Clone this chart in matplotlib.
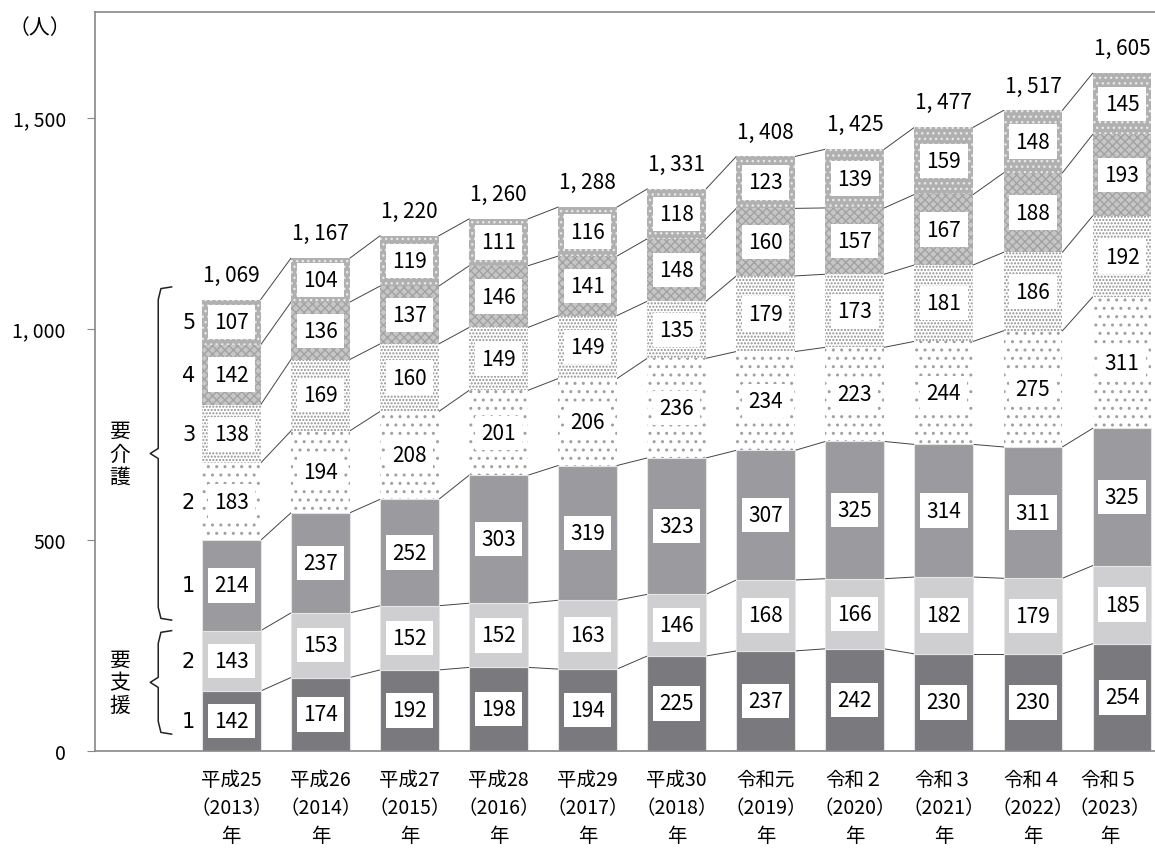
import matplotlib.pyplot as plt
import numpy as np
from matplotlib.transforms import ScaledTranslation

plt.rcParams['font.family'] = ['Noto Sans CJK JP', 'DejaVu Sans']
plt.rcParams['hatch.linewidth'] = 1.0

years = ['平成25\n（2013）\n年', '平成26\n（2014）\n年', '平成27\n（2015）\n年',
         '平成28\n（2016）\n年', '平成29\n（2017）\n年', '平成30\n（2018）\n年',
         '令和元\n（2019）\n年', '令和２\n（2020）\n年', '令和３\n（2021）\n年',
         '令和４\n（2022）\n年', '令和５\n（2023）\n年']

shien1 = [142, 174, 192, 198, 194, 225, 237, 242, 230, 230, 254]
shien2 = [143, 153, 152, 152, 163, 146, 168, 166, 182, 179, 185]
kaigo1 = [214, 237, 252, 303, 319, 323, 307, 325, 314, 311, 325]
kaigo2 = [183, 194, 208, 201, 206, 236, 234, 223, 244, 275, 311]
kaigo3 = [138, 169, 160, 149, 149, 135, 179, 173, 181, 186, 192]
kaigo4 = [142, 136, 137, 146, 141, 148, 160, 157, 167, 188, 193]
kaigo5 = [107, 104, 119, 111, 116, 118, 123, 139, 159, 148, 145]
totals = [1069, 1167, 1220, 1260, 1288, 1331, 1408, 1425, 1477, 1517, 1605]

series = [shien1, shien2, kaigo1, kaigo2, kaigo3, kaigo4, kaigo5]
side_labels = ['1', '2', '1', '2', '3', '4', '5']
# facecolor, hatch, hatch colour
styles = [
    ('#7a7a7e', None, None),
    ('#cfcfd1', None, None),
    ('#9b9b9f', None, None),
    ('white', '..', '#a0a0a0'),
    ('white', '.....', '#909090'),
    ('#c6c6c6', 'xxxx', '#a2a2a2'),
    ('#b0b0b0', '...', '#e8e8e8'),
]

fig = plt.figure(figsize=(11.55, 8.54), dpi=100)
ax = fig.add_axes([95 / 1155, 102 / 854, 1 - 95 / 1155, (752 - 13) / 854])

x = np.arange(len(years))
w = 0.66
bottom = np.zeros(len(years))
bounds = [bottom.copy()]
for vals, (fc, hatch, hc) in zip(series, styles):
    vals = np.array(vals, dtype=float)
    if hatch is None:
        ax.bar(x, vals, w, bottom=bottom, color=fc, edgecolor='#e4e4e4', linewidth=0.8, zorder=2)
    else:
        ax.bar(x, vals, w, bottom=bottom, color=fc, edgecolor=hc, hatch=hatch, linewidth=0, zorder=2)
    for xi, b, v in zip(x, bottom, vals):
        ax.text(xi, b + v / 2, f'{int(v)}', ha='center', va='center', fontsize=15, zorder=4,
                bbox=dict(boxstyle='square,pad=0.3', fc='white', ec='none'))
    bottom = bottom + vals
    bounds.append(bottom.copy())

# connector lines between neighbouring bars
for bnd in bounds[1:]:
    for i in range(len(x) - 1):
        ax.plot([x[i] + w / 2, x[i + 1] - w / 2], [bnd[i], bnd[i + 1]],
                color='#444444', lw=0.7, zorder=1)

for xi, t in zip(x, totals):
    ax.annotate(f'{t // 1000}, {t % 1000:03d}', (xi, t), xytext=(0, 10), textcoords='offset points',
                ha='center', va='bottom', fontsize=15)

# row labels next to the first bar
for lab, lo, hi in zip(side_labels, bounds[:-1], bounds[1:]):
    ax.text(-0.48, (lo[0] + hi[0]) / 2, lab, ha='center', va='center', fontsize=15,
            family=['DejaVu Sans'])

def brace(y0, y1, xb, tip=0.09, hook=30):
    ym = (y0 + y1) / 2
    xs = [xb + 0.15, xb + 0.03, xb, xb, xb - tip, xb, xb, xb + 0.03, xb + 0.15]
    ys = [y1, y1 - 4, y1 - hook, ym + 12, ym, ym - 12, y0 + hook, y0 + 4, y0]
    ax.plot(xs, ys, color='#222222', lw=1.1, clip_on=False)
    return ym

ym = brace(bounds[2][0] + 25, bounds[7][0] + 30, -0.82)
ax.text(-1.25, ym, '要\n介\n護', ha='center', va='center', fontsize=15, linespacing=1.05)
ym = brace(bounds[0][0] + 40, bounds[2][0], -0.82)
ax.text(-1.25, ym, '要\n支\n援', ha='center', va='center', fontsize=15, linespacing=1.05)

ax.set_xlim(-1.53, 10.37)
ax.set_ylim(0, 1750)
ax.set_yticks([0, 500, 1000, 1500])
ax.set_yticklabels(['0', '500', '1, 000', '1, 500'], fontsize=14)
ax.set_xticks(x)
ax.set_xticklabels(years, fontsize=14, linespacing=1.45)
ax.tick_params(axis='x', length=0, pad=13)
ax.tick_params(axis='y', length=6, color='#888888', pad=15)
for s in ['left', 'bottom', 'top']:
    ax.spines[s].set_color('#888888')
    ax.spines[s].set_linewidth(1.2)
ax.spines['right'].set_visible(False)

# keep the last year label inside the figure edge
last = ax.get_xticklabels()[-1]
last.set_transform(last.get_transform() + ScaledTranslation(-9 / 72, 0, fig.dpi_scale_trans))

fig.text(40 / 1155, 1 - 28 / 854, '（人）', ha='center', va='center', fontsize=15)

fig.savefig('out.png', dpi=100)
